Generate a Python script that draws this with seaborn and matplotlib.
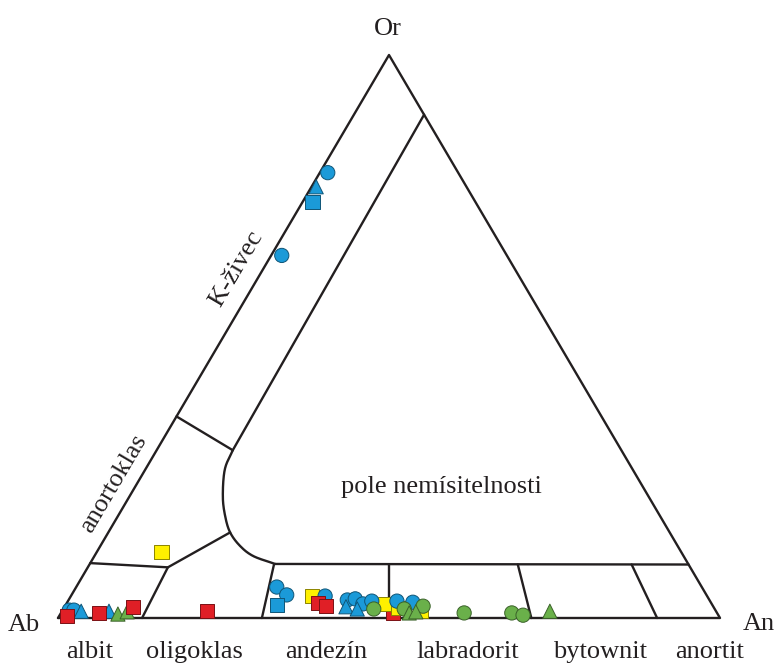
import numpy as np
import pandas as pd
import matplotlib
matplotlib.use("Agg")
import matplotlib.pyplot as plt
import seaborn as sns

# ---- feldspar analyses (mol. %: An, Or; Ab = 100 - An - Or) ----
yellow_sq_an = [9.8, 36.4, 48.2, 50.5, 54.2]
yellow_sq_or = [11.7, 3.9, 2.5, 1.8, 1.2]

blue_ci_an = [1.2, 1.6, 1.0, 1.7, 30.3, 32.5, 38.4, 42.1, 43.2, 44.8, 45.9, 49.7, 52.2]
blue_ci_or = [79.1, 64.4, 1.4, 1.4, 5.5, 4.1, 3.9, 3.2, 3.4, 2.5, 3.0, 3.0, 2.8]
blue_tr_an = [0.7, 2.9, 7.1, 42.5, 44.4]
blue_tr_or = [76.6, 1.2, 1.2, 2.0, 1.6]
blue_sq_an = [1.5, 31.9]
blue_sq_or = [73.9, 2.3]

green_ci_an = [46.9, 51.5, 54.1, 60.9, 68.1, 70.0]
green_ci_or = [1.6, 1.6, 2.1, 0.9, 0.9, 0.5]
green_tr_an = [8.7, 9.9, 52.6, 53.5, 73.7]
green_tr_or = [0.7, 1.1, 0.9, 1.1, 1.2]

red_sq_an = [50.2, 1.2, 5.7, 10.3, 21.9, 37.9, 39.4]
red_sq_or = [0.9, 0.4, 0.9, 2.0, 1.2, 2.7, 2.1]

field_names = ["albit", "oligoklas", "andezín", "labradorit", "bytownit", "anortit"]
vertex_names = ["Ab", "An", "Or"]

groups = [
    ("yellow", "square", yellow_sq_an, yellow_sq_or),
    ("blue", "circle", blue_ci_an, blue_ci_or),
    ("blue", "triangle", blue_tr_an, blue_tr_or),
    ("blue", "square", blue_sq_an, blue_sq_or),
    ("green", "circle", green_ci_an, green_ci_or),
    ("green", "triangle", green_tr_an, green_tr_or),
    ("red", "square", red_sq_an, red_sq_or),
]
rows = []
for col, shp, an_vals, or_vals in groups:
    for a, o in zip(an_vals, or_vals):
        rows.append({"An": a, "Or": o, "colour": col, "shape": shp})
df = pd.DataFrame(rows)

# the red analysis near An50 sits underneath the neighbouring symbols
under = (df["colour"] == "red") & (df["An"] > 45)
df = pd.concat([df[under], df[~under]], ignore_index=True)


def tern(an, orth):
    """Ternary (An, Or) in % -> cartesian plotting coordinates."""
    an = np.asarray(an, float)
    orth = np.asarray(orth, float)
    return an + orth / 2.0, orth


df["x"], df["y"] = tern(df["An"], df["Or"])

# ---- figure: pixel-proportional frame (base 662 px, height 563 px) ----
W, H = 777, 664
fig = plt.figure(figsize=(W / 100, H / 100), dpi=100)
ax = fig.add_axes([0, 0, 1, 1])
x0, ybase, sx, sy = 58, 618, 6.62, 5.63
ax.set_xlim((0 - x0) / sx, (W - x0) / sx)
ax.set_ylim((ybase - H) / sy, ybase / sy)
ax.axis("off")

LC = "#231f20"
LW = 1.7


def line(pts, **kw):
    pts = np.asarray(pts, float)
    x, y = tern(pts[:, 0], pts[:, 1])
    ax.plot(x, y, color=LC, lw=LW, solid_capstyle="round",
            solid_joinstyle="round", zorder=2, **kw)


def catmull(pts, n=20):
    pts = np.asarray(pts, float)
    p = np.vstack([2 * pts[0] - pts[1], pts, 2 * pts[-1] - pts[-2]])
    out = []
    for i in range(1, len(p) - 2):
        t = np.linspace(0, 1, n, endpoint=False)[:, None]
        p0, p1, p2, p3 = p[i - 1], p[i], p[i + 1], p[i + 2]
        out.append(0.5 * ((2 * p1) + (-p0 + p2) * t
                          + (2 * p0 - 5 * p1 + 4 * p2 - p3) * t ** 2
                          + (-p0 + 3 * p1 - 3 * p2 + p3) * t ** 3))
    out.append(pts[-1][None, :])
    return np.vstack(out)


# outer triangle
line([[0, 0], [100, 0], [0, 100], [0, 0]])

# K-feldspar / miscibility gap boundary
line([[10.6, 89.4], [11.5, 29.8]])
curve = [[11.5, 29.8], [12.0, 26.4], [14.1, 21.6], [16.2, 18.1],
         [18.4, 15.2], [21.1, 12.8], [24.0, 11.0], [28.0, 9.6]]
line(catmull(curve))
line([[28.0, 9.6], [90.5, 9.5]])

# anorthoclase field
line([[0, 35.8], [11.5, 29.8]])
line([[0, 9.75], [12.1, 9.0], [18.4, 15.2]])

# plagioclase divisions (toward Or apex)
line([[12.7, 0], [12.1, 9.0]])
for base in [30.8, 50.0, 71.5, 90.5]:
    line([[base, 0], [base * (1 - 0.095), 9.5]])

# ---- data points ----
palette = {"blue": "#1b9ad8", "red": "#e01f26", "yellow": "#fff000",
           "green": "#6ab04a"}
markers = {"circle": "o", "square": "s", "triangle": "^"}
sns.scatterplot(data=df, x="x", y="y", hue="colour", style="shape",
                palette=palette, markers=markers, s=105, linewidth=0.7,
                legend=False, ax=ax, zorder=3)
coll = ax.collections[-1]
fc = coll.get_facecolors()
ec = fc.copy()
ec[:, :3] = fc[:, :3] * 0.55
coll.set_edgecolors(ec)

# ---- labels ----
font = dict(family="Liberation Serif", fontsize=19, color="#231f20")


def ftxt(px, py, s, **kw):
    fig.text(px / W, 1 - py / H, s, **font, **kw)


ftxt(388, 29, vertex_names[2], ha="center", va="center")
ftxt(8, 631, vertex_names[0], ha="left", va="baseline")
ftxt(743, 630, vertex_names[1], ha="left", va="baseline")
for name, cx in zip(field_names, [90, 194, 326, 468, 600, 710]):
    ftxt(cx, 658, name, ha="center", va="baseline")
ftxt(236, 269, "K-živec", ha="center", va="center", rotation=59.5,
     rotation_mode="anchor")
ftxt(114, 484, "anortoklas", ha="center", va="center", rotation=59.5,
     rotation_mode="anchor")
ftxt(441, 487, "pole nemísitelnosti", ha="center", va="center")

fig.savefig("out.png", dpi=100, facecolor="white")
